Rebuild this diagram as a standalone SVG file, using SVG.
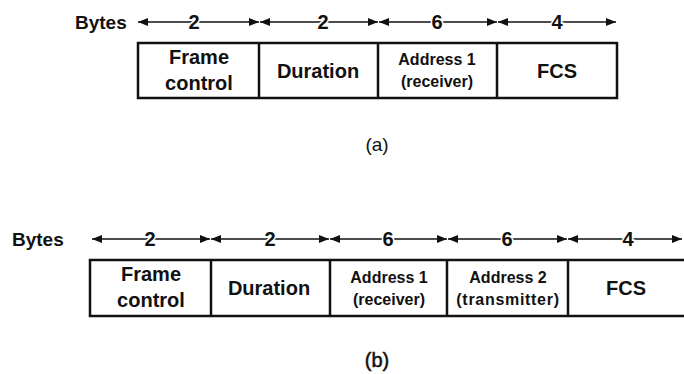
<svg xmlns="http://www.w3.org/2000/svg" width="684" height="374" viewBox="0 0 684 374">
  <style>
    .lbl { font-family: "Liberation Sans", Arial, sans-serif; font-weight: bold; fill: #111; }
    .big { font-size: 20px; text-anchor: middle; }
    .small { font-size: 16px; text-anchor: middle; }
    .wide { letter-spacing: 0.7px; }
    .bytes { font-size: 19px; }
    .num { font-size: 20px; text-anchor: middle; stroke: #fff; stroke-width: 3px; paint-order: stroke; }
    .cap { font-family: "Liberation Sans", Arial, sans-serif; font-size: 19px; text-anchor: middle; fill: #111; }
    .capb { font-size: 20px; stroke: #111; stroke-width: 0.5px; }
    .frame { fill: #fff; stroke: #111; stroke-width: 2.5; }
    .div { stroke: #111; stroke-width: 2.5; }
    .dim { stroke: #111; stroke-width: 1.4; fill: none; marker-start: url(#tip); marker-end: url(#tip); }
  </style>
  <defs>
    <marker id="tip" viewBox="0 0 10 8" refX="10" refY="4" markerWidth="10" markerHeight="8" markerUnits="userSpaceOnUse" orient="auto-start-reverse">
      <path d="M0,0 L10,4 L0,8 z" fill="#111"/>
    </marker>
  </defs>
  <rect width="684" height="374" fill="#fff"/>

  <!-- (a) byte-size dimension arrows -->
  <g id="connectors-a">
    <line class="dim" x1="138" y1="22" x2="259" y2="22"/>
    <line class="dim" x1="260" y1="22" x2="378" y2="22"/>
    <line class="dim" x1="379" y1="22" x2="497" y2="22"/>
    <line class="dim" x1="498" y1="22" x2="616" y2="22"/>
  </g>
  <g id="sizes-a">
    <text class="lbl bytes" x="75" y="29">Bytes</text>
    <text class="lbl num" x="194" y="29">2</text>
    <text class="lbl num" x="323" y="29">2</text>
    <text class="lbl num" x="437" y="29">6</text>
    <text class="lbl num" x="557" y="29">4</text>
  </g>

  <!-- (a) frame fields -->
  <rect class="frame" x="138" y="43" width="479" height="55"/>
  <g id="a-frame-control">
    <text class="lbl big" x="199" y="64">Frame</text>
    <text class="lbl big" x="199" y="90">control</text>
  </g>
  <g id="a-duration">
    <line class="div" x1="259" y1="43" x2="259" y2="98"/>
    <text class="lbl big" x="318" y="77.5">Duration</text>
  </g>
  <g id="a-address1">
    <line class="div" x1="378" y1="43" x2="378" y2="98"/>
    <text class="lbl small" x="437" y="65">Address 1</text>
    <text class="lbl small" x="437" y="87">(receiver)</text>
  </g>
  <g id="a-fcs">
    <line class="div" x1="497" y1="43" x2="497" y2="98"/>
    <text class="lbl big" x="557" y="77.5">FCS</text>
  </g>
  <text class="cap" x="377" y="151">(a)</text>

  <!-- (b) byte-size dimension arrows -->
  <g id="connectors-b">
    <line class="dim" x1="92" y1="239" x2="210" y2="239"/>
    <line class="dim" x1="211" y1="239" x2="329" y2="239"/>
    <line class="dim" x1="330" y1="239" x2="447" y2="239"/>
    <line class="dim" x1="448" y1="239" x2="567" y2="239"/>
    <line class="dim" x1="568" y1="239" x2="682" y2="239"/>
  </g>
  <g id="sizes-b">
    <text class="lbl bytes" x="12" y="246">Bytes</text>
    <text class="lbl num" x="150" y="246">2</text>
    <text class="lbl num" x="270" y="246">2</text>
    <text class="lbl num" x="388" y="246">6</text>
    <text class="lbl num" x="507" y="246">6</text>
    <text class="lbl num" x="628" y="246">4</text>
  </g>

  <!-- (b) frame fields; the last field runs past the right edge -->
  <rect class="frame" x="90" y="260" width="600" height="56"/>
  <g id="b-frame-control">
    <text class="lbl big" x="151" y="281">Frame</text>
    <text class="lbl big" x="151" y="307">control</text>
  </g>
  <g id="b-duration">
    <line class="div" x1="211" y1="260" x2="211" y2="316"/>
    <text class="lbl big" x="269" y="295">Duration</text>
  </g>
  <g id="b-address1">
    <line class="div" x1="330" y1="260" x2="330" y2="316"/>
    <text class="lbl small" x="389" y="283">Address 1</text>
    <text class="lbl small" x="389" y="305">(receiver)</text>
  </g>
  <g id="b-address2">
    <line class="div" x1="447" y1="260" x2="447" y2="316"/>
    <text class="lbl small" x="508" y="283">Address 2</text>
    <text class="lbl small wide" x="508" y="305">(transmitter)</text>
  </g>
  <g id="b-fcs">
    <line class="div" x1="568" y1="260" x2="568" y2="316"/>
    <text class="lbl big" x="626" y="295">FCS</text>
  </g>
  <text class="cap capb" x="377" y="367">(b)</text>
</svg>
